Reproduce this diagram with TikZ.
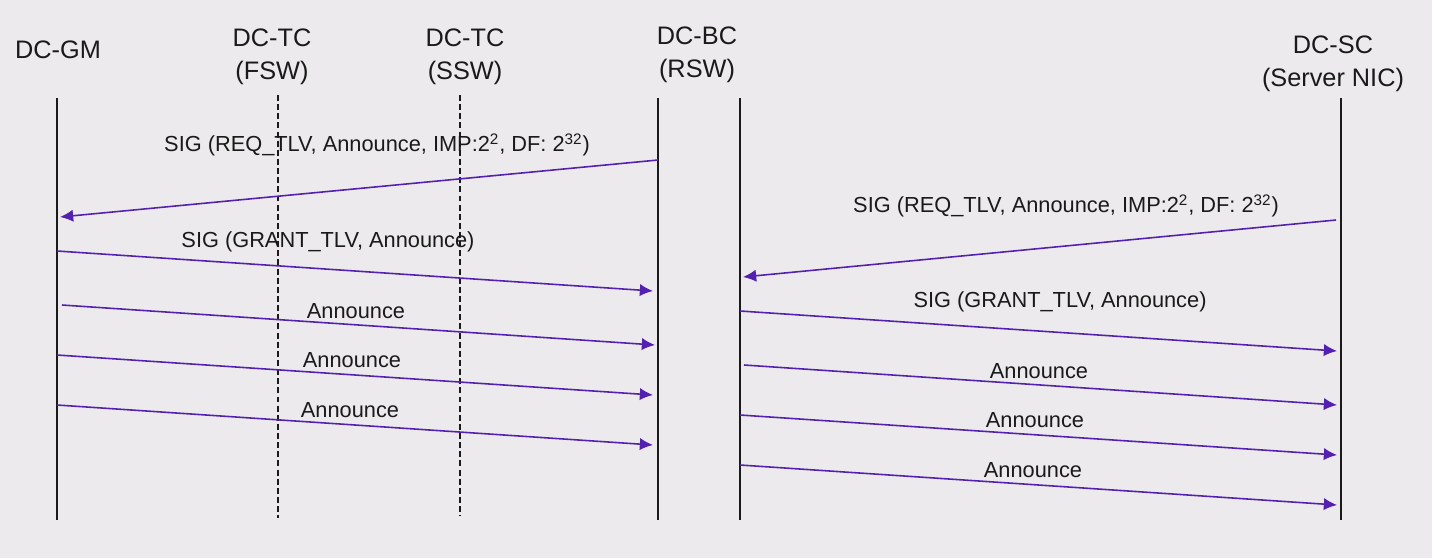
\documentclass[tikz,border=0pt]{standalone}
\usepackage{fontspec}
\setmainfont{Liberation Sans}
\usepackage{xcolor}
\usetikzlibrary{arrows.meta,positioning,calc}
\definecolor{ink}{HTML}{1A1A1A}
\definecolor{msgviolet}{HTML}{5420B0}
\definecolor{paper}{HTML}{ECEAEC}
\tikzset{
  actor/.style={align=center, text=ink, font=\fontsize{14.4}{18.6}\selectfont, inner sep=0pt},
  lifeline/.style={draw=ink, line width=0.75pt},
  relayline/.style={draw=ink, line width=0.75pt, dash pattern=on 3.4pt off 1.8pt},
  msg/.style={draw=msgviolet, line width=0.9pt, -{Latex[length=7.5pt,width=7pt]}},
  msglabel/.style={text=ink, font=\fontsize{12.4}{15}\selectfont, inner sep=0pt}
}

\begin{document}
\begin{tikzpicture}[x=0.02cm, y=-0.02cm]
  \fill[paper] (0,0) rectangle (1432,558);
  \useasboundingbox (0,0) rectangle (1432,558);

  % actors
  \node[actor] (gm) at (58,50) {DC-GM};
  \node[actor] (fsw) at (272,57) {DC-TC\\(FSW)};
  \node[actor] (ssw) at (465,57) {DC-TC\\(SSW)};
  \node[actor] (rsw) at (697,55) {DC-BC\\(RSW)};
  \node[actor] (nic) at (1333,64) {DC-SC\\(Server NIC)};

  % lifelines
  \coordinate (gmtop) at (57,98);    \coordinate (gmbot) at (57,520);
  \coordinate (fswtop) at (278,95);  \coordinate (fswbot) at (278,518);
  \coordinate (sswtop) at (460,95);  \coordinate (sswbot) at (460,516);
  \coordinate (bcltop) at (658,98);  \coordinate (bclbot) at (658,520);
  \coordinate (bcrtop) at (740,98);  \coordinate (bcrbot) at (740,520);
  \coordinate (nictop) at (1341,98); \coordinate (nicbot) at (1341,520);
  \draw[lifeline] (gmtop) -- (gmbot);
  \draw[relayline] (fswtop) -- (fswbot);
  \draw[relayline] (sswtop) -- (sswbot);
  \draw[lifeline] (bcltop) -- (bclbot);
  \draw[lifeline] (bcrtop) -- (bcrbot);
  \draw[lifeline] (nictop) -- (nicbot);

  % GM <-> BC
  \coordinate (a1s) at (658,160); \coordinate (a1e) at (60,217);
  \coordinate (a2s) at (57,251);  \coordinate (a2e) at (653,291);
  \coordinate (a3s) at (62,305);  \coordinate (a3e) at (655,345);
  \coordinate (a4s) at (57,355);  \coordinate (a4e) at (653,395);
  \coordinate (a5s) at (57,405);  \coordinate (a5e) at (653,445);
  \draw[msg] (a1s) -- (a1e);
  \draw[msg] (a2s) -- (a2e);
  \draw[msg] (a3s) -- (a3e);
  \draw[msg] (a4s) -- (a4e);
  \draw[msg] (a5s) -- (a5e);
  \node[msglabel] (l1) at (377,145) {SIG (REQ\_TLV, Announce, IMP:2\textsuperscript{2}, DF: 2\textsuperscript{32})};
  \node[msglabel] (l2) at (328,242) {SIG (GRANT\_TLV, Announce)};
  \node[msglabel] (l3) at (356,311) {Announce};
  \node[msglabel] (l4) at (352,360) {Announce};
  \node[msglabel] (l5) at (350,410) {Announce};

  % BC <-> SC
  \coordinate (b1s) at (1336,220); \coordinate (b1e) at (743,277);
  \coordinate (b2s) at (740,311);  \coordinate (b2e) at (1337,351);
  \coordinate (b3s) at (744,365);  \coordinate (b3e) at (1337,405);
  \coordinate (b4s) at (740,415);  \coordinate (b4e) at (1337,455);
  \coordinate (b5s) at (740,465);  \coordinate (b5e) at (1337,505);
  \draw[msg] (b1s) -- (b1e);
  \draw[msg] (b2s) -- (b2e);
  \draw[msg] (b3s) -- (b3e);
  \draw[msg] (b4s) -- (b4e);
  \draw[msg] (b5s) -- (b5e);
  \node[msglabel] (r1) at (1066,206) {SIG (REQ\_TLV, Announce, IMP:2\textsuperscript{2}, DF: 2\textsuperscript{32})};
  \node[msglabel] (r2) at (1060,302) {SIG (GRANT\_TLV, Announce)};
  \node[msglabel] (r3) at (1039,371) {Announce};
  \node[msglabel] (r4) at (1035,420) {Announce};
  \node[msglabel] (r5) at (1033,470) {Announce};
\end{tikzpicture}
\end{document}
